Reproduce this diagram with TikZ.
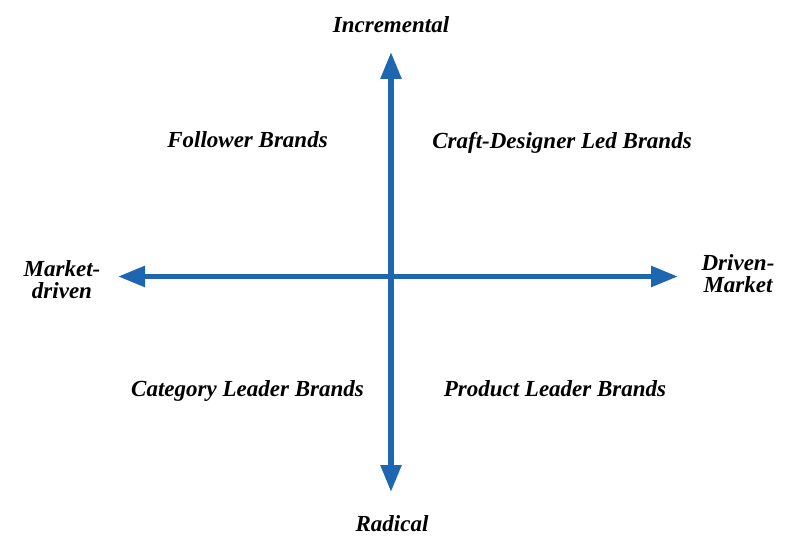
\documentclass[tikz,border=0pt]{standalone}
\usepackage{fontspec}
\setmainfont{Liberation Serif}
\usetikzlibrary{arrows.meta}
\definecolor{axisblue}{RGB}{31,102,176}
\begin{document}
\begin{tikzpicture}[x=1pt,y=1pt]
        \tikzstyle{every node}=[font=\fontsize{23}{22}\selectfont\bfseries\itshape, align=center, inner sep=0pt];
        \tikzstyle{quadrant}=[anchor=base];
        \tikzstyle{axis}=[axisblue, line width=5.5pt, {Triangle[length=27pt,width=20pt]}-{Triangle[length=27pt,width=20pt]}];
        \useasboundingbox (0,0) rectangle (800,557);
        \coordinate (top) at (391,505);
        \coordinate (bottom) at (391,65);
        \coordinate (left) at (118,280.5);
        \coordinate (right) at (678,280.5);
        \draw[axis] (bottom) -- (top);
        \draw[axis] (left) -- (right);
        \node[quadrant] (incr) at (391,524) {Incremental};
        \node[quadrant] (radical) at (392,26) {Radical};
        \node (mktdriven) at (62,277) {Market-\\driven};
        \node (drivenmkt) at (738,283) {Driven-\\Market};
        \node[quadrant] (follower) at (247.5,409) {Follower Brands};
        \node[quadrant] (craft) at (562,408) {Craft-Designer Led Brands};
        \node[quadrant] (category) at (247.5,160) {Category Leader Brands};
        \node[quadrant] (product) at (555,160) {Product Leader Brands};
    \end{tikzpicture}
\end{document}
